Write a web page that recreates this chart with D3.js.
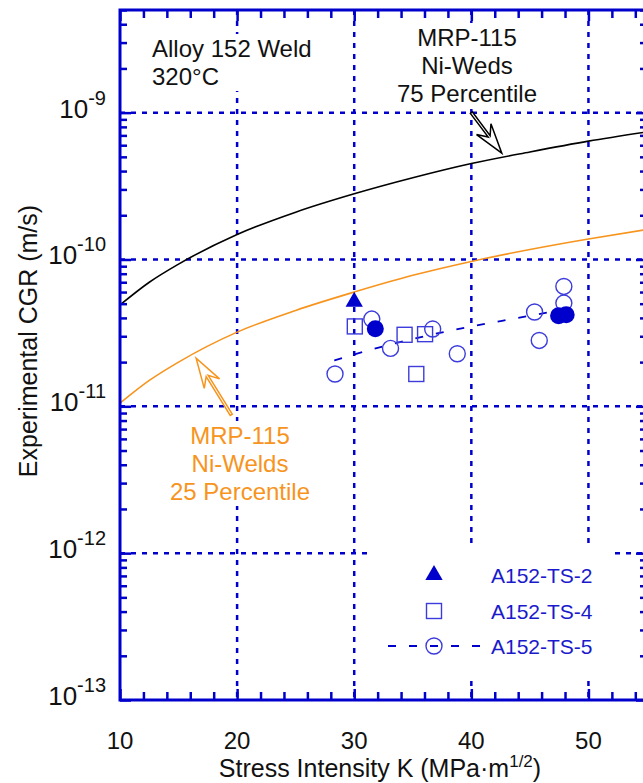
<!DOCTYPE html>
<html>
<head>
<meta charset="utf-8">
<script src="https://cdn.jsdelivr.net/npm/d3@7"></script>
<style>
  body { margin: 0; background: #fff; }
  svg { display: block; font-family: "Liberation Sans", Arial, sans-serif; }
</style>
</head>
<body>
<svg width="643" height="783"></svg>
<script>
// ---- data ----
var kTicks = [10, 20, 30, 40, 50];
var decades = [-13, -12, -11, -10, -9];

// MRP-115 curves
var curveK = [10, 12.5, 15, 20, 25, 30, 35, 40, 45, 50, 55];
var mrp75 = [4.9e-11, 7.0e-11, 9.3e-11, 1.48e-10, 2.1e-10, 2.8e-10, 3.6e-10, 4.5e-10, 5.4e-10, 6.4e-10, 7.4e-10];
var mrp25 = [1.05e-11, 1.5e-11, 2.0e-11, 3.2e-11, 4.5e-11, 6.0e-11, 7.8e-11, 9.7e-11, 1.17e-10, 1.38e-10, 1.6e-10];

// A152-TS-2 (filled triangle)
var ts2K = [30.0];
var ts2 = [5.15e-11];
// A152-TS-4 (open squares)
var ts4K = [30.05, 34.3, 36.05, 35.3];
var ts4 = [3.5e-11, 3.07e-11, 3.1e-11, 1.66e-11];
// A152-TS-5 (open circles)
var ts5K = [31.5, 28.36, 33.1, 36.7, 38.8, 45.4, 45.8, 47.9, 47.9];
var ts5 = [3.93e-11, 1.66e-11, 2.48e-11, 3.36e-11, 2.28e-11, 4.39e-11, 2.81e-11, 6.55e-11, 5.05e-11];
// filled circles
var fillK = [31.8, 47.45, 48.1];
var fill = [3.37e-11, 4.14e-11, 4.2e-11];
// TS-5 trend line
var trendK = [28.3, 32, 36, 40, 44, 47.5];
var trend = [2.05e-11, 2.5e-11, 3.0e-11, 3.5e-11, 4.0e-11, 4.5e-11];

var blue = "#0000cc", orange = "#f7941d";

var svg = d3.select("svg");
var x = d3.scaleLinear().domain([10, 55]).range([120, 647]);
var y = d3.scaleLog().domain([1e-13, 5e-9]).range([700, 10]);

function pts(ks, vs) { return ks.map(function(k, i) { return [k, vs[i]]; }); }

// grid
var grid = svg.append("g").attr("stroke", blue).attr("stroke-width", 2.5)
    .attr("stroke-dasharray", "5,6");
grid.selectAll(".gx").data(kTicks.slice(1)).enter().append("line")
    .attr("x1", function(d) { return x(d); }).attr("x2", function(d) { return x(d); })
    .attr("y1", y.range()[1]).attr("y2", y.range()[0]);
grid.selectAll(".gy").data(decades.slice(1)).enter().append("line")
    .attr("y1", function(d) { return y(Math.pow(10, d)); }).attr("y2", function(d) { return y(Math.pow(10, d)); })
    .attr("x1", x.range()[0]).attr("x2", x.range()[1]);

var masks = svg.append("g");

// curves
var line = d3.line().x(function(d) { return x(d[0]); }).y(function(d) { return y(d[1]); })
    .curve(d3.curveMonotoneX);
svg.append("path").datum(pts(curveK, mrp75)).attr("d", line)
    .attr("fill", "none").attr("stroke", "#000").attr("stroke-width", 1.6);
svg.append("path").datum(pts(curveK, mrp25)).attr("d", line)
    .attr("fill", "none").attr("stroke", orange).attr("stroke-width", 1.6);
svg.append("path").datum(pts(trendK, trend)).attr("d", line)
    .attr("fill", "none").attr("stroke", blue).attr("stroke-width", 1.8)
    .attr("stroke-dasharray", "8,13");

// markers
svg.selectAll(".c5").data(pts(ts5K, ts5)).enter().append("circle")
    .attr("cx", function(d) { return x(d[0]); }).attr("cy", function(d) { return y(d[1]); })
    .attr("r", 8).attr("fill", "none").attr("stroke", "#3c3cdc").attr("stroke-width", 1.4);
svg.selectAll(".s4").data(pts(ts4K, ts4)).enter().append("rect")
    .attr("x", function(d) { return x(d[0]) - 7.5; }).attr("y", function(d) { return y(d[1]) - 7.5; })
    .attr("width", 15).attr("height", 15)
    .attr("fill", "none").attr("stroke", "#3c3cdc").attr("stroke-width", 1.4);
svg.selectAll(".cf").data(pts(fillK, fill)).enter().append("circle")
    .attr("cx", function(d) { return x(d[0]); }).attr("cy", function(d) { return y(d[1]); })
    .attr("r", 8.5).attr("fill", blue);
var tri = d3.symbol().type(d3.symbolTriangle).size(130);
svg.selectAll(".t2").data(pts(ts2K, ts2)).enter().append("path")
    .attr("d", tri)
    .attr("transform", function(d) { return "translate(" + x(d[0]) + "," + y(d[1]) + ")"; })
    .attr("fill", blue);

// arrows (tail -> tip in data coords)
function arrow(tail, tip, color) {
  var x0 = x(tail[0]), y0 = y(tail[1]), x1 = x(tip[0]), y1 = y(tip[1]);
  var dx = x1 - x0, dy = y1 - y0, L = Math.sqrt(dx * dx + dy * dy);
  var ux = dx / L, uy = dy / L, nx = -uy, ny = ux;
  var hl = 30, hw = 9, nd = 21, sw = 1.2;
  var bx = x1 - ux * hl, by = y1 - uy * hl;
  var cx = x1 - ux * nd, cy = y1 - uy * nd;
  var p = [
    [x0 + nx * sw, y0 + ny * sw],
    [cx + nx * sw, cy + ny * sw],
    [bx + nx * hw, by + ny * hw],
    [x1, y1],
    [bx - nx * hw, by - ny * hw],
    [cx - nx * sw, cy - ny * sw],
    [x0 - nx * sw, y0 - ny * sw]
  ];
  svg.append("path").attr("d", "M" + p.join("L") + "Z")
      .attr("fill", "#fff").attr("stroke", color).attr("stroke-width", 1.5)
      .attr("stroke-linejoin", "miter");
}
arrow([40.0, 1e-9], [42.6, 5.3e-10], "#000");
arrow([19.5, 8.75e-12], [16.5, 2.13e-11], orange);

// annotation texts with white boxes
function textBlock(lines, px, py, anchor, color, size, lh) {
  var t = svg.append("text").attr("fill", color).attr("font-size", size)
      .attr("text-anchor", anchor);
  lines.forEach(function(s, i) {
    t.append("tspan").attr("x", px).attr("y", py + i * lh).text(s);
  });
  return t;
}
function maskBehind(node, px, py) {
  var b = node.getBBox();
  masks.append("rect").attr("x", b.x - px).attr("y", b.y - py)
      .attr("width", b.width + 2 * px).attr("height", b.height + 2 * py).attr("fill", "#fff");
}
var t1 = textBlock(["Alloy 152 Weld", "320°C"], 152, 57, "start", "#111", 24, 28);
maskBehind(t1.node(), 6, 1);
var t2 = textBlock(["MRP-115", "Ni-Weds", "75 Percentile"], 467, 46, "middle", "#111", 24, 28);
maskBehind(t2.node(), 6, 1);
var t3 = textBlock(["MRP-115", "Ni-Welds", "25 Percentile"], 240, 444, "middle", orange, 24, 28);
maskBehind(t3.node(), 6, 1);

// legend
var leg = svg.append("g");
var legNames = ["A152-TS-2", "A152-TS-4", "A152-TS-5"];
var legRows = [575, 611, 646];
leg.append("line").attr("x1", 388).attr("x2", 480).attr("y1", legRows[2]).attr("y2", legRows[2])
    .attr("stroke", blue).attr("stroke-width", 1.8).attr("stroke-dasharray", "8,13");
leg.append("path").attr("d", tri).attr("transform", "translate(434," + legRows[0] + ")").attr("fill", blue);
leg.append("rect").attr("x", 426.5).attr("y", legRows[1] - 7.5).attr("width", 15).attr("height", 15)
    .attr("fill", "none").attr("stroke", "#3c3cdc").attr("stroke-width", 1.4);
leg.append("circle").attr("cx", 434).attr("cy", legRows[2]).attr("r", 8)
    .attr("fill", "none").attr("stroke", "#3c3cdc").attr("stroke-width", 1.4);
leg.selectAll("text").data(legNames).enter().append("text")
    .attr("x", 491).attr("y", function(d, i) { return legRows[i]; }).attr("dy", "0.36em")
    .attr("font-size", 21).attr("fill", "#1a1acc").text(function(d) { return d; });
var lb = leg.node().getBBox();
masks.append("rect").attr("x", lb.x - 18).attr("y", lb.y - 18)
    .attr("width", lb.width + 36).attr("height", lb.height + 36).attr("fill", "#fff");

// axes (ticks inward on all sides)
var minors = [];
decades.forEach(function(d) { for (var m = 2; m <= 9; m++) minors.push(m * Math.pow(10, d)); });
minors = minors.filter(function(v) { return v <= 5e-9; });
var majorsY = decades.map(function(d) { return Math.pow(10, d); });
var minorsX = d3.range(12, 56, 2).filter(function(k) { return k % 10 !== 0; });

function styleAxis(g) {
  g.select(".domain").remove();
  g.selectAll("line").attr("stroke", blue).attr("stroke-width", 2.5);
}
svg.append("g").attr("transform", "translate(120,0)")
    .call(d3.axisLeft(y).tickValues(majorsY).tickSize(-11).tickFormat("")).call(styleAxis);
svg.append("g").attr("transform", "translate(120,0)")
    .call(d3.axisLeft(y).tickValues(minors).tickSize(-7).tickFormat("")).call(styleAxis);
svg.append("g").attr("transform", "translate(647,0)")
    .call(d3.axisRight(y).tickValues(majorsY).tickSize(-11).tickFormat("")).call(styleAxis);
svg.append("g").attr("transform", "translate(647,0)")
    .call(d3.axisRight(y).tickValues(minors).tickSize(-7).tickFormat("")).call(styleAxis);
svg.append("g").attr("transform", "translate(0,700)")
    .call(d3.axisBottom(x).tickValues(kTicks).tickSize(-11).tickFormat("")).call(styleAxis);
svg.append("g").attr("transform", "translate(0,700)")
    .call(d3.axisBottom(x).tickValues(minorsX).tickSize(-8).tickFormat("")).call(styleAxis);
svg.append("g").attr("transform", "translate(0,10)")
    .call(d3.axisTop(x).tickValues(kTicks).tickSize(-11).tickFormat("")).call(styleAxis);
svg.append("g").attr("transform", "translate(0,10)")
    .call(d3.axisTop(x).tickValues(minorsX).tickSize(-8).tickFormat("")).call(styleAxis);

svg.append("rect").attr("x", 120).attr("y", 10).attr("width", 527).attr("height", 690)
    .attr("fill", "none").attr("stroke", blue).attr("stroke-width", 3);

// tick labels
svg.selectAll(".xl").data(kTicks).enter().append("text")
    .attr("x", function(d) { return x(d); }).attr("y", 749)
    .attr("text-anchor", "middle").attr("font-size", 24).attr("fill", "#111")
    .text(function(d) { return d; });
var yl = svg.selectAll(".yl").data(decades).enter().append("text")
    .attr("x", 106).attr("y", function(d) { return y(Math.pow(10, d)) + 5; })
    .attr("text-anchor", "end").attr("font-size", 26).attr("fill", "#111");
yl.append("tspan").text("10");
yl.append("tspan").attr("dy", -13).attr("font-size", 20).text(function(d) { return d; });

// axis titles
var xt = svg.append("text").attr("x", 380).attr("y", 777).attr("text-anchor", "middle")
    .attr("font-size", 25).attr("fill", "#111");
xt.append("tspan").text("Stress Intensity K (MPa·m");
xt.append("tspan").attr("dy", -10).attr("font-size", 17).text("1/2");
xt.append("tspan").attr("dy", 10).text(")");
svg.append("text").attr("transform", "translate(37,341) rotate(-90)")
    .attr("text-anchor", "middle").attr("font-size", 25).attr("fill", "#111")
    .text("Experimental CGR (m/s)");
</script>
</body>
</html>
